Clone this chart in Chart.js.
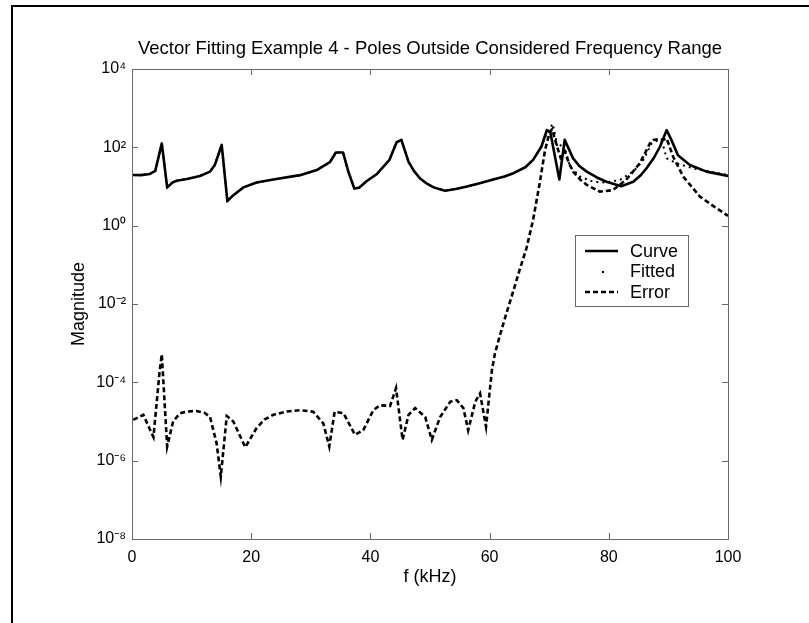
<!DOCTYPE html>
<html><head><meta charset="utf-8">
<script src="https://cdn.jsdelivr.net/npm/chart.js@4/dist/chart.umd.min.js"></script>
<style>html,body{margin:0;padding:0;background:#fff}#wrap{width:809px;height:623px}</style>
</head><body><div id="wrap"><canvas id="c" width="809" height="623"></canvas></div>
<script>
const titleText = 'Vector Fitting Example 4 - Poles Outside Considered Frequency Range';
const xLabel = 'f (kHz)';
const yLabel = 'Magnitude';
const seriesNames = ['Curve', 'Fitted', 'Error'];
const xTicks = [0, 20, 40, 60, 80, 100];
const yTicks = [1e-8, 1e-6, 1e-4, 1e-2, 1e0, 1e2, 1e4];

const curveFreq = [0,1.5,3.0,3.9,5.0,5.9,6.8,7.5,9.2,11.4,13.1,13.9,15.05,16.0,17.0,18.7,20.9,23.7,28.2,31.0,33.2,34.2,35.4,36.3,37.3,38.1,39.4,41.1,43.2,44.4,45.2,46.4,47.3,48.3,49.5,50.6,52.5,54.3,56.2,58.5,60.6,62.5,64.0,66.0,67.3,68.7,69.6,70.2,71.7,72.6,74.0,75.0,76.3,78.0,79.6,82.1,84.1,85.3,86.3,87.6,88.6,89.7,90.5,91.6,93.6,96.4,100];
const curveMag = [19.7,19.5,20.9,25.1,126,9.5,12.6,14.0,15.5,18.6,24,35.5,115,4.27,6.0,9.5,12.6,15.1,19.5,26.3,41.7,74,74,24,8.9,9.3,13.8,20.9,47.9,135,155,42.7,25,16.2,11.8,9.5,7.8,8.6,10,12.3,15.1,18,21.9,31,47.9,105,275,240,15.1,155,52.5,34,24,17,13.2,10.2,13.2,19,28.8,55,105,275,155,63,35.5,24,18.6];

const fittedFreq = [0,1.5,3.0,3.9,5.0,5.9,6.8,7.5,9.2,11.4,13.1,13.9,15.05,16.0,17.0,18.7,20.9,23.7,28.2,31.0,33.2,34.2,35.4,36.3,37.3,38.1,39.4,41.1,43.2,44.4,45.2,46.4,47.3,48.3,49.5,50.6,52.5,54.3,56.2,58.5,60.6,62.5,64.0,66.0,67.3,68.7,69.6,70.6,71.4,72.4,73.5,75.2,77.4,79.6,81.9,84.1,85.8,87.2,88.3,89.0,89.7,91.4,94.2,97.0,100];
const fittedMag = [19.7,19.5,20.9,25.1,126,9.5,12.6,14.0,15.5,18.6,24,35.5,115,4.27,6.0,9.5,12.6,15.1,19.5,26.3,41.7,74,74,24,8.9,9.3,13.8,20.9,47.9,135,155,42.7,25,16.2,11.8,9.5,7.8,8.6,10,12.3,15.1,18,21.9,31,47.9,105,230,400,100,126,32,17.8,13.2,12.6,14.8,24,47.9,126,155,130,52.5,39,28.8,24,19.5];

const errorFreq = [0.2,1.9,3.6,4.6,5.0,5.9,6.9,8.0,9.2,10.8,12.2,13.1,14.2,14.9,15.9,17.0,19.0,20.9,22.2,23.7,26.0,28.2,30.4,32.1,33.1,34.0,35.5,37.4,38.8,40.5,41.6,43.3,44.3,45.4,46.4,47.5,49.2,50.3,51.7,53.4,54.5,55.6,56.4,57.6,58.4,59.4,60.1,60.4,60.9,62.0,63.0,64.0,65.0,66.2,67.3,68.4,69.3,70.1,70.5,71.2,71.9,72.6,73.3,74.0,75.2,76.3,78.5,80.7,82.9,85.2,86.9,87.5,88.3,89.1,89.7,90.8,92.5,95.3,97.5,100];
const errorMag = [1.1e-5,1.48e-5,4.0e-6,1.7e-4,5.2e-4,2.3e-6,1.0e-5,1.6e-5,1.8e-5,1.86e-5,1.66e-5,1.3e-5,2.75e-6,3.9e-7,1.38e-5,1.0e-5,2.2e-6,6.8e-6,1.12e-5,1.48e-5,1.8e-5,1.95e-5,1.78e-5,8.9e-6,2.3e-6,1.78e-5,1.62e-5,4.6e-6,6.0e-6,1.95e-5,2.6e-5,2.5e-5,7.1e-5,3.4e-6,1.48e-5,2.2e-5,1.3e-5,3.4e-6,1.3e-5,3.2e-5,3.5e-5,2.2e-5,6.0e-6,3.2e-5,5.2e-5,7.4e-6,7.8e-5,2.1e-4,5.5e-4,2.2e-3,7.1e-3,2.2e-2,7.1e-2,0.27,1.41,12,85,250,290,120,55,80,40,24,15,11,7.4,8.1,14.8,39,126,155,160,155,170,57.5,17.8,5.5,3.2,1.78];

const pts = (xs, ys) => xs.map((x, i) => ({x: x, y: ys[i]}));
const supMap = {'-':'\u207B','0':'\u2070','1':'\u00B9','2':'\u00B2','3':'\u00B3','4':'\u2074','5':'\u2075','6':'\u2076','7':'\u2077','8':'\u2078','9':'\u2079'};
const sup = n => String(n).split('').map(c => supMap[c]).join('');
const FONT = "'Liberation Sans', Arial, Helvetica, sans-serif";
const AXIS_COLOR = '#6a6a6a';

const decor = {
  id: 'decor',
  beforeDraw(chart) {
    const ctx = chart.ctx;
    ctx.save();
    ctx.fillStyle = '#fff';
    ctx.fillRect(0, 0, chart.width, chart.height);
    ctx.strokeStyle = '#000';
    ctx.lineWidth = 2;
    ctx.beginPath();
    ctx.moveTo(12, chart.height);
    ctx.lineTo(12, 6);
    ctx.lineTo(chart.width, 6);
    ctx.stroke();
    ctx.restore();
  },
  afterDatasetsDraw(chart) {
    const {ctx, chartArea: a, scales: {x, y}} = chart;
    ctx.save();
    ctx.strokeStyle = AXIS_COLOR;
    ctx.lineWidth = 1;
    ctx.strokeRect(Math.round(a.left) + 0.5, Math.round(a.top) + 0.5, Math.round(a.right - a.left), Math.round(a.bottom - a.top));
    const tl = 6;
    ctx.beginPath();
    x.ticks.forEach(t => {
      const px = Math.round(x.getPixelForValue(t.value)) + 0.5;
      ctx.moveTo(px, a.bottom); ctx.lineTo(px, a.bottom - tl);
      ctx.moveTo(px, a.top); ctx.lineTo(px, a.top + tl);
    });
    y.ticks.forEach(t => {
      const py = Math.round(y.getPixelForValue(t.value)) + 0.5;
      ctx.moveTo(a.left, py); ctx.lineTo(a.left + tl, py);
      ctx.moveTo(a.right, py); ctx.lineTo(a.right - tl, py);
    });
    ctx.stroke();
    ctx.restore();
  },
  afterDraw(chart) {
    const {ctx, chartArea: a} = chart;
    const bx = a.right - 153, by = a.top + 166, bw = 113, bh = 71;
    ctx.save();
    ctx.fillStyle = '#fff';
    ctx.fillRect(bx, by, bw, bh);
    ctx.strokeStyle = AXIS_COLOR;
    ctx.lineWidth = 1;
    ctx.strokeRect(bx + 0.5, by + 0.5, bw, bh);
    ctx.font = '18px ' + FONT;
    ctx.textBaseline = 'middle';
    ctx.textAlign = 'left';
    chart.data.datasets.forEach((ds, i) => {
      const cy = by + 16 + i * 20.5;
      ctx.strokeStyle = '#000';
      ctx.fillStyle = '#000';
      if (i === 1) {
        ctx.fillRect(bx + 27, Math.round(cy) - 1, 2, 2);
      } else {
        ctx.lineWidth = ds.borderWidth;
        ctx.setLineDash(ds.borderDash || []);
        ctx.beginPath();
        ctx.moveTo(bx + 10, cy); ctx.lineTo(bx + 43, cy);
        ctx.stroke();
        ctx.setLineDash([]);
      }
      ctx.fillText(ds.label, bx + 55, cy + 1);
    });
    ctx.restore();
  }
};

new Chart(document.getElementById('c'), {
  type: 'line',
  data: {
    datasets: [
      {label: seriesNames[0], data: pts(curveFreq, curveMag), borderColor: '#000', borderWidth: 2.6, pointRadius: 0, tension: 0, borderJoinStyle: 'round', borderCapStyle: 'round'},
      {label: seriesNames[1], data: pts(fittedFreq, fittedMag), borderColor: '#000', borderWidth: 2, borderDash: [2, 4], pointRadius: 0, tension: 0},
      {label: seriesNames[2], data: pts(errorFreq, errorMag), borderColor: '#000', borderWidth: 2.6, borderDash: [5, 3], pointRadius: 0, tension: 0}
    ]
  },
  options: {
    responsive: false,
    animation: false,
    devicePixelRatio: 1,
    layout: {padding: {left: 0, right: 81, top: 0, bottom: 0}},
    plugins: {
      legend: {display: false},
      tooltip: {enabled: false},
      title: {display: true, fullSize: false, text: titleText, color: '#000', font: {family: FONT, size: 18.5, weight: 'normal'}, padding: {top: 37.9, bottom: 8.9}}
    },
    scales: {
      x: {
        type: 'linear', min: 0, max: 100,
        afterBuildTicks: s => { s.ticks = xTicks.map(v => ({value: v})); },
        afterFit: s => { s.height = 84; },
        grid: {display: false, drawTicks: false},
        border: {display: false},
        ticks: {color: '#000', font: {family: FONT, size: 16}, padding: 9, maxRotation: 0, autoSkip: false, callback: v => String(v)},
        title: {display: true, text: xLabel, color: '#000', font: {family: FONT, size: 18}, padding: {top: 0, bottom: 35}}
      },
      y: {
        type: 'logarithmic', min: 1e-8, max: 1e4,
        afterBuildTicks: s => { s.ticks = yTicks.map(v => ({value: v})); },
        afterFit: s => { s.width = 132; },
        grid: {display: false, drawTicks: false},
        border: {display: false},
        ticks: {color: '#000', font: {family: FONT, size: 16}, padding: 6, autoSkip: false, callback: v => '10' + sup(Math.round(Math.log10(v)))},
        title: {display: true, text: yLabel, color: '#000', font: {family: FONT, size: 18}, padding: {top: 68, bottom: 0}}
      }
    }
  },
  plugins: [decor]
});
</script>
</body></html>
